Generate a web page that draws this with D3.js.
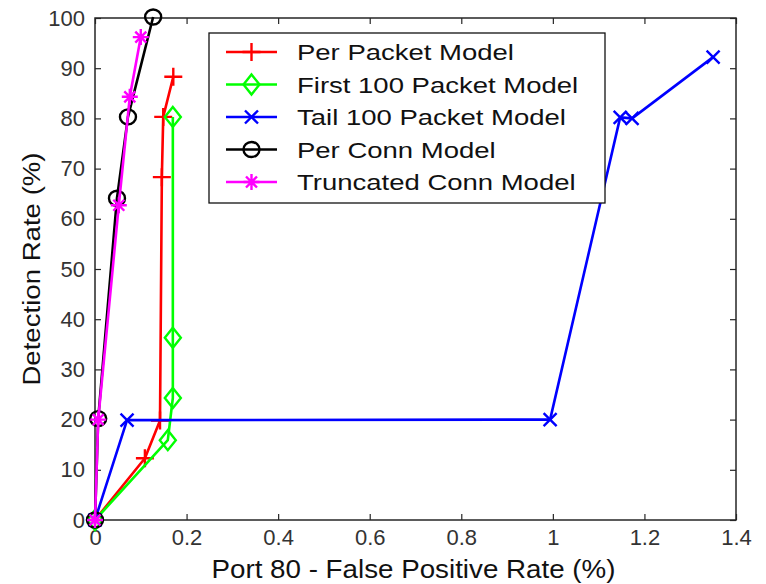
<!DOCTYPE html>
<meta charset="utf-8">
<head>
<style>
  body { margin: 0; background: #fff; }
  text { font-family: "Liberation Sans", Arial, sans-serif; }
</style>
</head>
<body>
<script src="https://d3js.org/d3.v7.min.js"></script>
<div id="chart"></div>
<script>

// tick values
var xTicks = [0, 0.2, 0.4, 0.6, 0.8, 1, 1.2, 1.4];
var yTicks = [0, 10, 20, 30, 40, 50, 60, 70, 80, 90, 100];

// series (false positive %, detection %)
var perPacketX = [0, 0.109, 0.142, 0.146, 0.149, 0.171];
var perPacketY = [0, 12.3, 19.8, 68.3, 80.3, 88.3];

var first100X = [0, 0.159, 0.170, 0.170, 0.170];
var first100Y = [0, 15.9, 24.3, 36.3, 80.3];

var tail100X = [0, 0.070, 0.994, 1.147, 1.173, 1.350];
var tail100Y = [0, 19.9, 20.0, 80.2, 80.0, 92.2];

var perConnX = [0, 0.007, 0.048, 0.072, 0.127];
var perConnY = [0, 20.2, 64.1, 80.3, 100.2];

var truncConnX = [0, 0.007, 0.052, 0.076, 0.100];
var truncConnY = [0, 20.0, 62.7, 84.3, 96.2];

var seriesNames = ["Per Packet Model", "First 100 Packet Model", "Tail 100 Packet Model",
                   "Per Conn Model", "Truncated Conn Model"];
var seriesColors = ["#ff0000", "#00ff00", "#0000ff", "#000000", "#ff00ff"];
var seriesMarkers = ["plus", "diamond", "x", "circle", "star"];

var series = [
  {xs: perPacketX, ys: perPacketY},
  {xs: first100X, ys: first100Y},
  {xs: tail100X, ys: tail100Y},
  {xs: perConnX, ys: perConnY},
  {xs: truncConnX, ys: truncConnY}
];
series.forEach(function(s, i) {
  s.name = seriesNames[i];
  s.color = seriesColors[i];
  s.marker = seriesMarkers[i];
  s.points = s.xs.map(function(x, j) { return [x, s.ys[j]]; });
});

var W = 766, H = 584;
var plot = {left: 95, right: 736, top: 18, bottom: 520};

var svg = d3.select("#chart").append("svg")
  .attr("width", W)
  .attr("height", H);

var x = d3.scaleLinear().domain([0, 1.4]).range([plot.left, plot.right]);
var y = d3.scaleLinear().domain([0, 100]).range([plot.bottom, plot.top]);

var axisColor = "#262626";

function styleAxis(g) {
  g.select(".domain").remove();
  g.selectAll(".tick line").attr("stroke", axisColor).attr("stroke-width", 1.2);
  g.selectAll(".tick text").attr("fill", "#333").style("font-size", "22px");
}

svg.append("g")
  .attr("transform", "translate(0," + plot.bottom + ")")
  .call(d3.axisBottom(x).tickValues(xTicks).tickSizeInner(-6).tickSizeOuter(0).tickPadding(9)
        .tickFormat(function(d) { return d3.format("")(d); }))
  .call(styleAxis);

svg.append("g")
  .attr("transform", "translate(0," + plot.top + ")")
  .call(d3.axisTop(x).tickValues(xTicks).tickSizeInner(-6).tickSizeOuter(0).tickFormat(""))
  .call(styleAxis);

svg.append("g")
  .attr("transform", "translate(" + plot.left + ",0)")
  .call(d3.axisLeft(y).tickValues(yTicks).tickSizeInner(-6).tickSizeOuter(0).tickPadding(10))
  .call(styleAxis);

svg.append("g")
  .attr("transform", "translate(" + plot.right + ",0)")
  .call(d3.axisRight(y).tickValues(yTicks).tickSizeInner(-6).tickSizeOuter(0).tickFormat(""))
  .call(styleAxis);

// box
svg.append("rect")
  .attr("x", plot.left).attr("y", plot.top)
  .attr("width", plot.right - plot.left).attr("height", plot.bottom - plot.top)
  .attr("fill", "none").attr("stroke", axisColor).attr("stroke-width", 1.5);

// axis labels (the source text is a bit stretched sideways)
svg.append("text")
  .attr("transform", "translate(" + ((plot.left + plot.right) / 2 - 2) + ",578) scale(1.11,1)")
  .attr("text-anchor", "middle")
  .style("font-size", "25px")
  .attr("fill", "#111")
  .text("Port 80 - False Positive Rate (%)");

svg.append("text")
  .attr("transform", "translate(40,269) rotate(-90) scale(1.15,1)")
  .attr("text-anchor", "middle")
  .style("font-size", "24px")
  .attr("fill", "#111")
  .text("Detection Rate (%)");

// marker paths, centred on 0,0
function markerPath(type) {
  if (type == "plus") { return "M-9,0H9M0,-9V9"; }
  if (type == "diamond") { return "M0,-10L8,0L0,10L-8,0Z"; }
  if (type == "x") { return "M-6.5,-6.5L6.5,6.5M-6.5,6.5L6.5,-6.5"; }
  if (type == "circle") { return "M-8,0A8,7.5 0 1,0 8,0A8,7.5 0 1,0 -8,0Z"; }
  if (type == "star") { return "M-8,0H8M0,-8V8M-5.5,-5.5L5.5,5.5M-5.5,5.5L5.5,-5.5"; }
}

var line = d3.line()
  .x(function(d) { return x(d[0]); })
  .y(function(d) { return y(d[1]); });

series.forEach(function(s) {
  var g = svg.append("g");
  g.append("path")
    .attr("d", line(s.points))
    .attr("fill", "none")
    .attr("stroke", s.color)
    .attr("stroke-width", 2.6)
    .attr("stroke-linejoin", "round");
  g.selectAll("path.mk")
    .data(s.points)
    .enter().append("path")
    .attr("class", "mk")
    .attr("transform", function(d) { return "translate(" + x(d[0]) + "," + y(d[1]) + ")"; })
    .attr("d", markerPath(s.marker))
    .attr("fill", "none")
    .attr("stroke", s.color)
    .attr("stroke-width", 2.4);
});

// legend
var legend = svg.append("g").attr("transform", "translate(209,33)");
legend.append("rect")
  .attr("width", 396).attr("height", 170)
  .attr("fill", "#fff").attr("stroke", "#111").attr("stroke-width", 1.3);

var rows = legend.selectAll("g.row")
  .data(series)
  .enter().append("g")
  .attr("class", "row")
  .attr("transform", function(d, i) { return "translate(0," + (19 + i * 32.5) + ")"; });

rows.append("line")
  .attr("x1", 17).attr("x2", 68)
  .attr("stroke", function(d) { return d.color; })
  .attr("stroke-width", 2.6);
rows.append("path")
  .attr("transform", "translate(42.5,0)")
  .attr("d", function(d) { return markerPath(d.marker); })
  .attr("fill", "none")
  .attr("stroke", function(d) { return d.color; })
  .attr("stroke-width", 2.4);
rows.append("text")
  .attr("transform", "translate(88,8) scale(1.25,1)")
  .style("font-size", "22px")
  .attr("fill", "#111")
  .text(function(d) { return d.name; });

</script>
</body>
